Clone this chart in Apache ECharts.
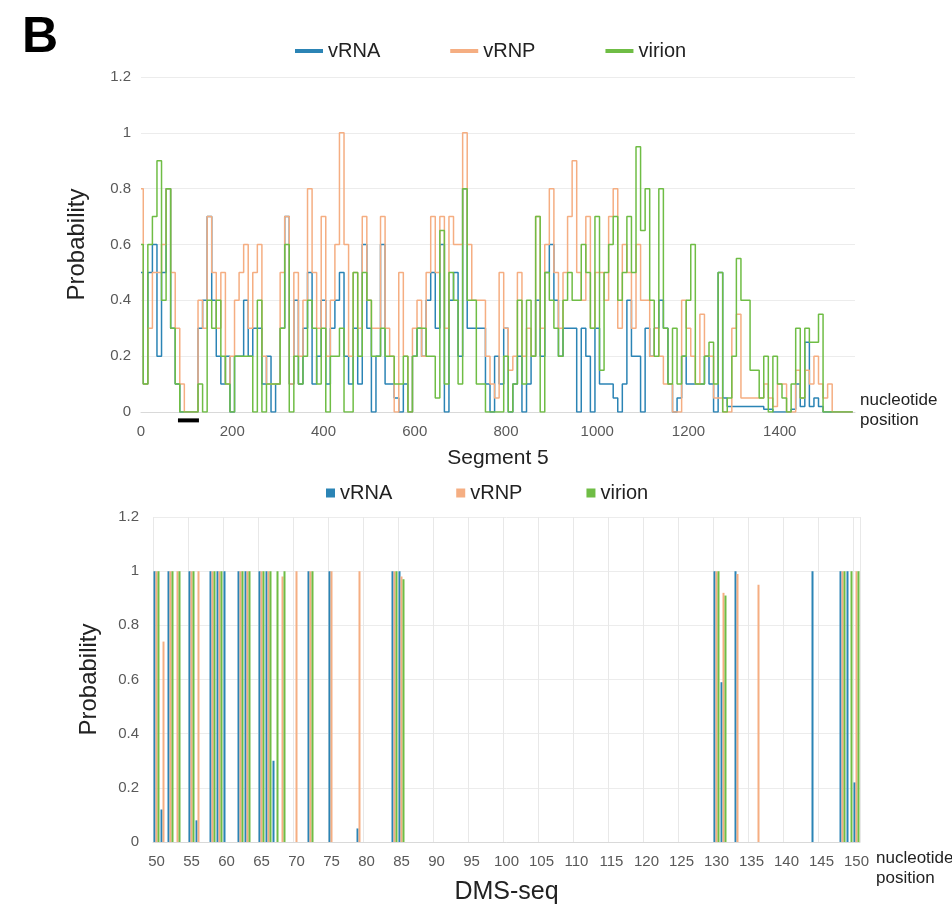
<!DOCTYPE html>
<html>
<head>
<meta charset="utf-8">
<script src="https://cdn.jsdelivr.net/npm/echarts@6/dist/echarts.min.js"></script>
<style>
  html, body { margin: 0; padding: 0; background: #fff; }
  #chart { width: 952px; height: 909px; }
</style>
</head>
<body>
<div id="chart"></div>
<script>
// top panel: probability along segment 5, sampled every 10 nt
var segStep = 10;
var vRNA = [
  0.5,0.1,0.5,0.6,0.2,0.5,0.8,0.3,0.1,0,
  0,0,0,0.3,0.4,0.7,0.4,0.2,0.1,0.2,
  0,0.2,0.2,0.4,0.2,0.3,0.3,0.1,0.2,0,
  0.1,0.3,0.7,0.1,0.4,0.1,0.3,0.5,0.1,0.2,
  0.4,0.1,0.3,0.4,0.5,0.2,0.1,0.3,0.1,0.6,
  0.3,0,0.2,0.6,0.1,0.1,0.05,0,0.1,0,
  0.2,0.3,0.2,0.4,0.5,0.3,0.6,0,0.4,0.5,
  0.2,0.8,0.3,0.3,0.3,0.3,0.1,0,0.2,0.1,
  0.3,0,0.1,0.2,0,0.1,0.2,0.4,0.2,0.5,
  0.6,0.4,0.2,0.3,0.3,0.3,0,0.3,0.2,0,
  0.3,0.1,0.1,0.1,0.05,0,0.1,0.4,0.2,0.2,
  0,0.3,0.2,0.3,0.4,0.3,0.1,0,0.05,0.2,
  0.1,0.1,0.1,0.1,0.2,0.1,0,0.5,0.05,0.02,
  0.02,0.02,0.02,0.02,0.02,0.02,0.02,0.01,0.01,0,
  0,0,0,0.01,0.1,0.02,0.25,0.02,0.05,0.02,
  0,0,0,0,0,0,0
];
var vRNP = [
  0.8,0.1,0.3,0.5,0.5,0.6,0.8,0.5,0.3,0.1,
  0,0,0,0.4,0.3,0.7,0.5,0.3,0.5,0.1,
  0.2,0.4,0.5,0.6,0.3,0.5,0.6,0.2,0.1,0.1,
  0.1,0.5,0.7,0.1,0.5,0.2,0.4,0.8,0.5,0.3,
  0.7,0.2,0.4,0.6,1.0,0.6,0.2,0.5,0.3,0.7,
  0.4,0.3,0.3,0.7,0.3,0.2,0,0.5,0.2,0,
  0.3,0.4,0.2,0.5,0.7,0.5,0.7,0.3,0.7,0.6,
  0.6,1.0,0.6,0.4,0.4,0.4,0.2,0.1,0.05,0.5,
  0.3,0.15,0.2,0.5,0.2,0.3,0.2,0.7,0.3,0.6,
  0.8,0.5,0.3,0.5,0.7,0.9,0.5,0.4,0.7,0.3,
  0.5,0.5,0.4,0.7,0.8,0.3,0.6,0.5,0.3,0.6,
  0.4,0.4,0.2,0.3,0.2,0.1,0.1,0,0,0.4,
  0.3,0.2,0.1,0.35,0.2,0.2,0.05,0.05,0,0,
  0.3,0.35,0.05,0.05,0.05,0.05,0.05,0.1,0.05,0.02,
  0.1,0.1,0,0,0.15,0.05,0.15,0.1,0.2,0.1,
  0.05,0.1,0,0,0,0,0
];
var virion = [
  0.6,0.1,0.6,0.7,0.9,0.4,0.8,0.3,0.1,0,
  0,0,0,0.1,0,0.4,0.3,0.4,0.2,0.1,
  0,0.2,0.2,0.2,0.2,0,0.4,0,0.1,0.1,
  0.1,0.3,0.6,0,0.2,0.1,0.2,0.4,0.3,0.1,
  0.3,0,0.2,0.2,0.3,0,0,0.5,0.2,0.5,
  0.4,0.2,0.2,0.3,0.2,0.2,0.1,0.1,0.2,0,
  0.2,0.3,0.3,0.2,0.2,0.05,0.65,0.1,0.5,0.4,
  0.1,0.8,0.4,0.4,0.1,0.1,0,0,0,0,
  0.2,0,0.1,0.4,0.1,0.4,0.2,0.7,0,0.5,
  0.4,0.3,0.2,0.4,0.5,0.4,0.4,0.6,0.5,0.3,
  0.7,0.15,0.5,0.6,0.7,0.4,0.5,0.7,0.5,0.95,
  0.65,0.8,0.4,0.2,0.8,0.3,0.1,0.3,0.1,0.2,
  0.4,0.6,0.1,0.1,0.2,0.25,0.1,0.5,0,0.05,
  0.2,0.55,0.4,0.4,0.15,0.15,0.05,0.2,0,0.2,
  0.1,0.05,0,0.1,0.3,0.05,0.3,0.25,0.25,0.35,
  0,0,0,0,0,0,0
];
// black bar under the axis (nt range)
var markRange = [81, 127];

// bottom panel: DMS-seq, positions 50-150
var dmsFirst = 50, dmsLast = 150;
var dmsRNA = [
  1,0.12,1,0,0,1,0.08,0,1,1,
  1,0,1,1,0,1,1,0.3,0,0,
  0,0,1,0,0,1,0,0,0,0.05,
  0,0,0,0,1,1,0,0,0,0,
  0,0,0,0,0,0,0,0,0,0,
  0,0,0,0,0,0,0,0,0,0,
  0,0,0,0,0,0,0,0,0,0,
  0,0,0,0,0,0,0,0,0,0,
  1,0.59,0,1,0,0,0,0,0,0,
  0,0,0,0,1,0,0,0,1,1,
  0.22
];
var dmsRNP = [
  1,0.74,1,1,0,1,1,0,1,1,
  0,0,1,1,0,1,1,0,0.98,0,
  1,0,1,0,0,1,0,0,0,1,
  0,0,0,0,1,0.98,0,0,0,0,
  0,0,0,0,0,0,0,0,0,0,
  0,0,0,0,0,0,0,0,0,0,
  0,0,0,0,0,0,0,0,0,0,
  0,0,0,0,0,0,0,0,0,0,
  1,0.92,0,0.99,0,0,0.95,0,0,0,
  0,0,0,0,0,0,0,0,1,0,
  1
];
var dmsVirion = [
  1,0,1,1,0,1,0,0,1,1,
  0,0,1,1,0,1,1,1,1,0,
  0,0,1,0,0,0,0,0,0,0,
  0,0,0,0,1,0.97,0,0,0,0,
  0,0,0,0,0,0,0,0,0,0,
  0,0,0,0,0,0,0,0,0,0,
  0,0,0,0,0,0,0,0,0,0,
  0,0,0,0,0,0,0,0,0,0,
  1,0.91,0,0,0,0,0,0,0,0,
  0,0,0,0,0,0,0,0,1,1,
  1
];

var colors = ['#2b84b5', '#f5ae82', '#6fbd45'];
var names = ['vRNA', 'vRNP', 'virion'];
var labelColor = '#595959';

function pairs(vals) {
  var out = [];
  for (var i = 0; i < vals.length; i++) out.push([i * segStep, vals[i]]);
  return out;
}
var dmsCats = [];
for (var p = dmsFirst; p <= dmsLast; p++) dmsCats.push(String(p));

var chart = echarts.init(document.getElementById('chart'), null, { renderer: 'canvas' });

function lineSeries(name, vals, c) {
  return {
    name: name, type: 'line', xAxisIndex: 0, yAxisIndex: 0, data: pairs(vals),
    step: 'middle', showSymbol: false,
    lineStyle: { width: 1.5, color: c }, itemStyle: { color: c }
  };
}
function barSeries(name, vals, c) {
  return {
    name: name, type: 'bar', xAxisIndex: 1, yAxisIndex: 1, data: vals,
    barWidth: 2, barGap: '0%', itemStyle: { color: c }
  };
}

var option = {
  animation: false,
  backgroundColor: '#fff',
  color: colors,
  textStyle: { fontFamily: 'Liberation Sans, Arial, sans-serif' },
  legend: [
    {
      data: names, top: 36, left: 290, itemGap: 70,
      icon: 'rect', itemWidth: 28, itemHeight: 4,
      textStyle: { fontSize: 20, color: '#222' }
    },
    {
      data: names, top: 478, left: 321, itemGap: 64,
      icon: 'rect', itemWidth: 9, itemHeight: 9,
      textStyle: { fontSize: 20, color: '#222' }
    }
  ],
  grid: [
    { left: 141, right: 97, top: 77, height: 335 },
    { left: 153, right: 92, top: 517, height: 325 }
  ],
  xAxis: [
    {
      gridIndex: 0, type: 'value', min: 0, max: 1565, interval: 200,
      name: 'Segment 5', nameLocation: 'middle', nameGap: 36,
      nameTextStyle: { fontSize: 21, color: '#222' },
      axisLine: { lineStyle: { color: '#d9d9d9' } },
      axisTick: { show: false },
      axisLabel: { fontSize: 15, color: labelColor, margin: 12, showMaxLabel: false,
        formatter: function (v) { return String(v); } },
      splitLine: { show: false }
    },
    {
      gridIndex: 1, type: 'category', data: dmsCats,
      name: 'DMS-seq', nameLocation: 'middle', nameGap: 38,
      nameTextStyle: { fontSize: 25, color: '#222' },
      axisLine: { lineStyle: { color: '#d9d9d9' } },
      axisTick: { show: false },
      axisLabel: { interval: 4, fontSize: 15, color: labelColor, margin: 12 },
      splitLine: { show: true, interval: 4, lineStyle: { color: '#e8e8e8' } }
    }
  ],
  yAxis: [
    {
      gridIndex: 0, type: 'value', min: 0, max: 1.2, interval: 0.2,
      name: 'Probability', nameLocation: 'middle', nameGap: 52, nameRotate: 90,
      nameTextStyle: { fontSize: 24, color: '#222' },
      axisLine: { show: false }, axisTick: { show: false },
      axisLabel: { fontSize: 15, color: labelColor, margin: 10 },
      splitLine: { lineStyle: { color: '#ececec' } }
    },
    {
      gridIndex: 1, type: 'value', min: 0, max: 1.2, interval: 0.2,
      name: 'Probability', nameLocation: 'middle', nameGap: 52, nameRotate: 90,
      nameTextStyle: { fontSize: 24, color: '#222' },
      axisLine: { show: false }, axisTick: { show: false },
      axisLabel: { fontSize: 15, color: labelColor, margin: 14 },
      splitLine: { lineStyle: { color: '#ececec' } }
    }
  ],
  graphic: [
    { type: 'text', left: 22, top: 13, style: { text: 'B', font: 'bold 50px Liberation Sans, Arial', fill: '#000' } },
    { type: 'text', left: 860, top: 390, style: { text: 'nucleotide\nposition', font: '17px Liberation Sans, Arial', fill: '#222', lineHeight: 20 } },
    { type: 'text', left: 876, top: 848, style: { text: 'nucleotide\nposition', font: '17px Liberation Sans, Arial', fill: '#222', lineHeight: 20 } }
  ],
  series: [
    lineSeries('vRNA', vRNA, colors[0]),
    lineSeries('vRNP', vRNP, colors[1]),
    lineSeries('virion', virion, colors[2]),
    { name: 'region', type: 'line', xAxisIndex: 0, yAxisIndex: 0,
      data: [[markRange[0], -0.03], [markRange[1], -0.03]],
      showSymbol: false, clip: false, silent: true,
      lineStyle: { width: 4, color: '#000', cap: 'butt' } },
    barSeries('vRNA', dmsRNA, colors[0]),
    barSeries('vRNP', dmsRNP, colors[1]),
    barSeries('virion', dmsVirion, colors[2])
  ]
};
chart.setOption(option);
</script>
</body>
</html>
